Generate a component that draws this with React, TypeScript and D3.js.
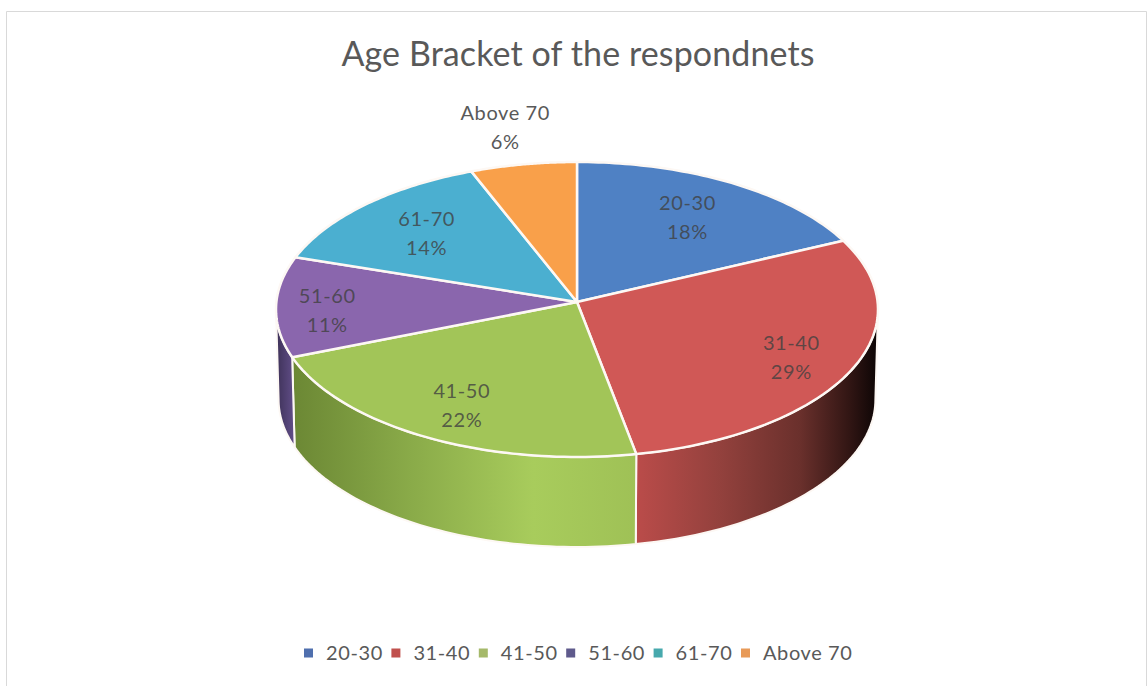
import React from "react";
import * as d3 from "d3";

const categories = ["20-30", "31-40", "41-50", "51-60", "61-70", "Above 70"];
const shares = [18, 29, 22, 11, 14, 6];
const topColors = ["#4f81c4", "#d05856", "#a2c558", "#8a66ad", "#4bafd0", "#f9a04a"];
const legendColors = ["#4f6fae", "#c0504d", "#a5b96a", "#5f5a8c", "#47a9ad", "#e89a58"];
const labelRadii = [0.715, 0.8, 0.76, 0.83, 0.71, 1.3];
const labelNudgeX = [0, -5, 0, 0, 0, -2];
const labelNudgeY = [1, 1, 1, 5, 1, 5];

const W = 1147;
const H = 686;
const cx = 577;
const apexY = 302;
const scaleX = 300.6;
const scaleY = 147.1;
const perspective = 0.0508;
const depth = 90;
const bottomScaleX = 298;
const edge = "#fdf8f4";

const arcs = d3.pie<number>().sort(null).value((d) => d)(shares);

// Disc seen in perspective: the far rim shrinks, so the hub sits above the ellipse centre.
const project = (a: number, sx: number, dy: number): [number, number] => {
  const w = 1 + perspective * Math.cos(a);
  return [cx + (sx * Math.sin(a)) / w, apexY + dy - (scaleY * Math.cos(a)) / w];
};
const topPoint = (a: number) => project(a, scaleX, 0);
const bottomPoint = (a: number) => project(a, bottomScaleX, depth);

const sweep = (a0: number, a1: number) => d3.range(0, 61).map((i) => a0 + ((a1 - a0) * i) / 60);
const line = d3.line<[number, number]>();

const slicePath = (a0: number, a1: number) =>
  line([[cx, apexY], ...sweep(a0, a1).map(topPoint)]) + "Z";
const sidePath = (a0: number, a1: number) =>
  line([...sweep(a0, a1).map(topPoint), ...sweep(a0, a1).reverse().map(bottomPoint)]) + "Z";

const labelPos = (a: number, f: number): [number, number] => {
  const [x, y] = topPoint(a);
  return [cx + (x - cx) * f, apexY + (y - apexY) * f];
};

// Only the near rim is visible: the three slices that cross the front of the disc.
const silhouette = Math.acos(-perspective);
const sides = [
  { id: "sideRed", a0: silhouette, a1: arcs[1].endAngle },
  { id: "sideGreen", a0: arcs[2].startAngle, a1: arcs[2].endAngle },
  { id: "sidePurple", a0: arcs[3].startAngle, a1: 2 * Math.PI - silhouette },
];

const legendX = d3.scaleLinear().domain([0, 5]).range([308, 745]);
const font = "Lato, sans-serif";

export default function App() {
  return (
    <svg
      width={W}
      height={H}
      viewBox={`0 0 ${W} ${H}`}
      style={{ position: "absolute", left: 0, top: 0, background: "#fff" }}
    >
      <defs>
        <linearGradient id="sideRed" gradientUnits="userSpaceOnUse" x1={635} x2={878} y1={0} y2={0}>
          <stop offset="0" stopColor="#bb4c4a" />
          <stop offset="0.35" stopColor="#93413d" />
          <stop offset="0.68" stopColor="#6a302c" />
          <stop offset="0.88" stopColor="#321614" />
          <stop offset="1" stopColor="#0c0505" />
        </linearGradient>
        <linearGradient id="sideGreen" gradientUnits="userSpaceOnUse" x1={291} x2={637} y1={0} y2={0}>
          <stop offset="0" stopColor="#6b8734" />
          <stop offset="0.35" stopColor="#8aab49" />
          <stop offset="0.7" stopColor="#a8cc5c" />
          <stop offset="1" stopColor="#9fc156" />
        </linearGradient>
        <linearGradient id="sidePurple" gradientUnits="userSpaceOnUse" x1={276} x2={293} y1={0} y2={0}>
          <stop offset="0" stopColor="#3d3157" />
          <stop offset="1" stopColor="#5f4c85" />
        </linearGradient>
      </defs>

      <path d={`M6.5 ${H}V11.5H${W - 0.5}V${H}`} fill="none" stroke="#d9d9d9" />

      <text
        x={578}
        y={66}
        textAnchor="middle"
        fontFamily={font}
        fontSize={34}
        letterSpacing={0.1}
        fill="#595959"
      >
        Age Bracket of the respondnets
      </text>

      {sides.map((s) => (
        <path
          key={s.id}
          d={sidePath(s.a0, s.a1)}
          fill={`url(#${s.id})`}
          stroke={edge}
          strokeWidth={2}
          strokeLinejoin="round"
        />
      ))}

      {arcs.map((a, i) => (
        <path
          key={categories[i]}
          d={slicePath(a.startAngle, a.endAngle)}
          fill={topColors[i]}
          stroke={edge}
          strokeWidth={2.5}
          strokeLinejoin="round"
        />
      ))}

      {arcs.map((a, i) => {
        const [x0, y0] = labelPos((a.startAngle + a.endAngle) / 2, labelRadii[i]);
        const x = x0 + labelNudgeX[i];
        const y = y0 + labelNudgeY[i];
        const fill = i === 5 ? "#595959" : "#404040";
        return (
          <text
            key={categories[i]}
            textAnchor="middle"
            fontFamily={font}
            fontSize={20}
            letterSpacing={0.6}
            fill={fill}
            fillOpacity={i === 5 ? 1 : 0.8}
          >
            <tspan x={x} y={y - 8}>
              {categories[i]}
            </tspan>
            <tspan x={x} y={y + 21}>
              {shares[i]}%
            </tspan>
          </text>
        );
      })}

      {categories.map((c, i) => (
        <g key={c} transform={`translate(${legendX(i)},653)`}>
          <rect x={-4} y={-4.5} width={9} height={9} fill={legendColors[i]} />
          <text x={18} y={7} fontFamily={font} fontSize={20} letterSpacing={0.6} fill="#595959">
            {c}
          </text>
        </g>
      ))}
    </svg>
  );
}
